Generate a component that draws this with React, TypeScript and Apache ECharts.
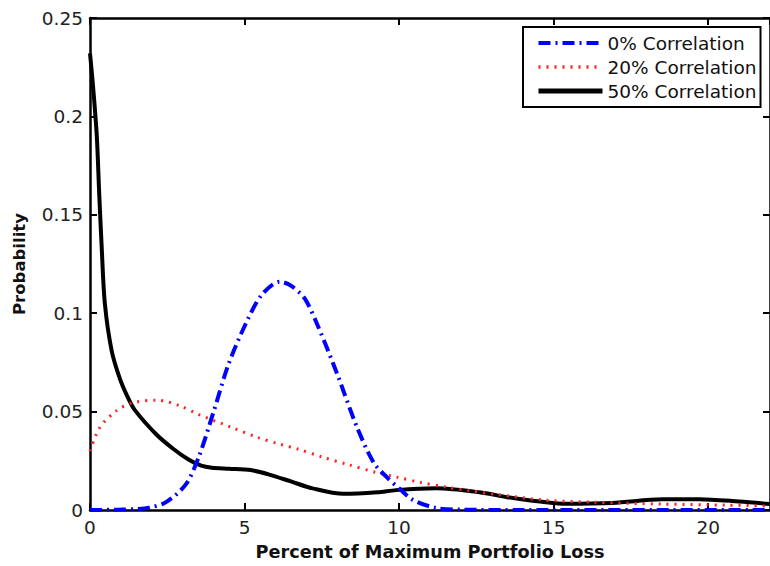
import React, { useEffect, useRef } from "react";
import * as echarts from "echarts";

// x: percent of maximum portfolio loss, y: probability
const corr0: [number, number][] = [
  [0, 0], [1, 0.0002], [1.5, 0.0005], [1.92, 0.0012], [2.46, 0.004], [3.1, 0.013],
  [3.52, 0.027], [4.0, 0.05], [4.48, 0.074], [5.02, 0.094], [5.54, 0.109],
  [6.14, 0.116], [6.5, 0.114], [6.94, 0.1076], [7.36, 0.094], [8.0, 0.069],
  [8.64, 0.042], [9.18, 0.024], [9.6, 0.0167], [10.0, 0.011], [10.46, 0.005],
  [11.2, 0.001], [12, 0.0002], [14, 0], [22, 0],
];
const corr20: [number, number][] = [
  [0, 0.03], [0.32, 0.042], [0.86, 0.0505], [1.38, 0.0545], [2.2, 0.0558],
  [2.9, 0.053], [3.52, 0.0485], [4.58, 0.042], [5.4, 0.037], [6.18, 0.0333],
  [6.72, 0.031], [7.5, 0.027], [8.32, 0.0232], [9.28, 0.019], [9.92, 0.0167],
  [10.7, 0.014], [11.52, 0.0116], [12.3, 0.0097], [13.12, 0.008], [14.72, 0.005],
  [16.3, 0.004], [18.5, 0.003], [20.6, 0.0025], [22, 0.002],
];
const corr50: [number, number][] = [
  [0, 0.232], [0.1, 0.215], [0.22, 0.19], [0.3, 0.16], [0.38, 0.133], [0.48, 0.105],
  [0.7, 0.081], [0.96, 0.067], [1.2, 0.058], [1.44, 0.051], [2.14, 0.0385],
  [2.7, 0.031], [3.2, 0.0255], [3.6, 0.0225], [3.94, 0.0215], [4.5, 0.021],
  [5.2, 0.0203], [5.8, 0.018], [6.5, 0.0145], [7.2, 0.011], [8.2, 0.0082],
  [9.3, 0.009], [9.9, 0.0101], [11.2, 0.011], [12.6, 0.009], [13.5, 0.0065],
  [14.2, 0.005], [15.3, 0.0032], [16.9, 0.0036], [18.5, 0.0054], [19.7, 0.0055],
  [21, 0.0043], [22, 0.003],
];
const seriesNames = ["0% Correlation", "20% Correlation", "50% Correlation"];
const xTitle = "Percent of Maximum Portfolio Loss";
const yTitle = "Probability";

const FONT = "DejaVu Sans";

export default function App() {
  const ref = useRef<HTMLDivElement>(null);
  useEffect(() => {
    if (!ref.current) return;
    const chart = echarts.init(ref.current, null, { renderer: "svg" });
    const blueStyle = { color: "#0000ff", width: 4, type: [12, 5, 2, 5] as number[] };
    const redStyle = { color: "#ff2020", width: 3, type: [2, 6] as number[] };
    const blackStyle = { color: "#000000", width: 4, type: "solid" as const };
    const axisCommon = {
      type: "value" as const,
      splitLine: { show: false },
      axisLine: { show: true, onZero: false, lineStyle: { color: "#000", width: 2.5 } },
      axisTick: { show: true, inside: true, length: 7, lineStyle: { color: "#000", width: 2 } },
    };
    chart.setOption({
      animation: false,
      backgroundColor: "#ffffff",
      grid: { left: 90, top: 18, bottom: 53, right: -7.5, containLabel: false },
      legend: {
        orient: "vertical",
        left: 523,
        top: 27,
        padding: [6, 4, 6, 13],
        itemGap: 4,
        itemWidth: 64,
        itemHeight: 14,
        backgroundColor: "#fff",
        borderColor: "#000",
        borderWidth: 2,
        borderRadius: 0,
        itemStyle: { opacity: 0, borderWidth: 0 },
        textStyle: { fontFamily: FONT, fontSize: 18.5, lineHeight: 20, color: "#111" },
        data: [
          { name: seriesNames[0], lineStyle: blueStyle },
          { name: seriesNames[1], lineStyle: { ...redStyle, width: 3.5 } },
          { name: seriesNames[2], lineStyle: { ...blackStyle, width: 5 } },
        ],
      },
      xAxis: [
        {
          ...axisCommon,
          min: 0,
          max: 22,
          interval: 5,
          position: "bottom",
          name: xTitle,
          nameLocation: "middle",
          nameGap: 33,
          nameTextStyle: { fontFamily: FONT, fontSize: 17.7, fontWeight: "bold", color: "#111" },
          axisLabel: { fontFamily: FONT, fontSize: 18.5, color: "#222", margin: 8, showMaxLabel: false },
        },
        {
          ...axisCommon,
          min: 0,
          max: 22,
          interval: 5,
          position: "top",
          axisLabel: { show: false },
        },
      ],
      yAxis: [
        {
          ...axisCommon,
          min: 0,
          max: 0.25,
          interval: 0.05,
          position: "left",
          name: yTitle,
          nameLocation: "middle",
          nameGap: 62,
          nameTextStyle: { fontFamily: FONT, fontSize: 16.5, fontWeight: "bold", color: "#111" },
          axisLabel: { fontFamily: FONT, fontSize: 18.5, color: "#222", margin: 7 },
        },
        {
          ...axisCommon,
          min: 0,
          max: 0.25,
          interval: 0.05,
          position: "right",
          axisLabel: { show: false },
        },
      ],
      series: [
        {
          name: seriesNames[0],
          type: "line",
          data: corr0,
          showSymbol: false,
          symbol: "none",
          smooth: 0.3,
          itemStyle: { color: "#0000ff" },
          lineStyle: blueStyle,
          z: 3,
        },
        {
          name: seriesNames[1],
          type: "line",
          data: corr20,
          showSymbol: false,
          symbol: "none",
          smooth: 0.3,
          itemStyle: { color: "#ff2020" },
          lineStyle: redStyle,
          z: 2,
        },
        {
          name: seriesNames[2],
          type: "line",
          data: corr50,
          showSymbol: false,
          symbol: "none",
          smooth: 0.3,
          itemStyle: { color: "#000000" },
          lineStyle: blackStyle,
          z: 1,
        },
      ],
    });
    return () => chart.dispose();
  }, []);
  return (
    <div
      ref={ref}
      style={{ position: "absolute", left: 0, top: 0, width: 770, height: 566, background: "#fff" }}
    />
  );
}
